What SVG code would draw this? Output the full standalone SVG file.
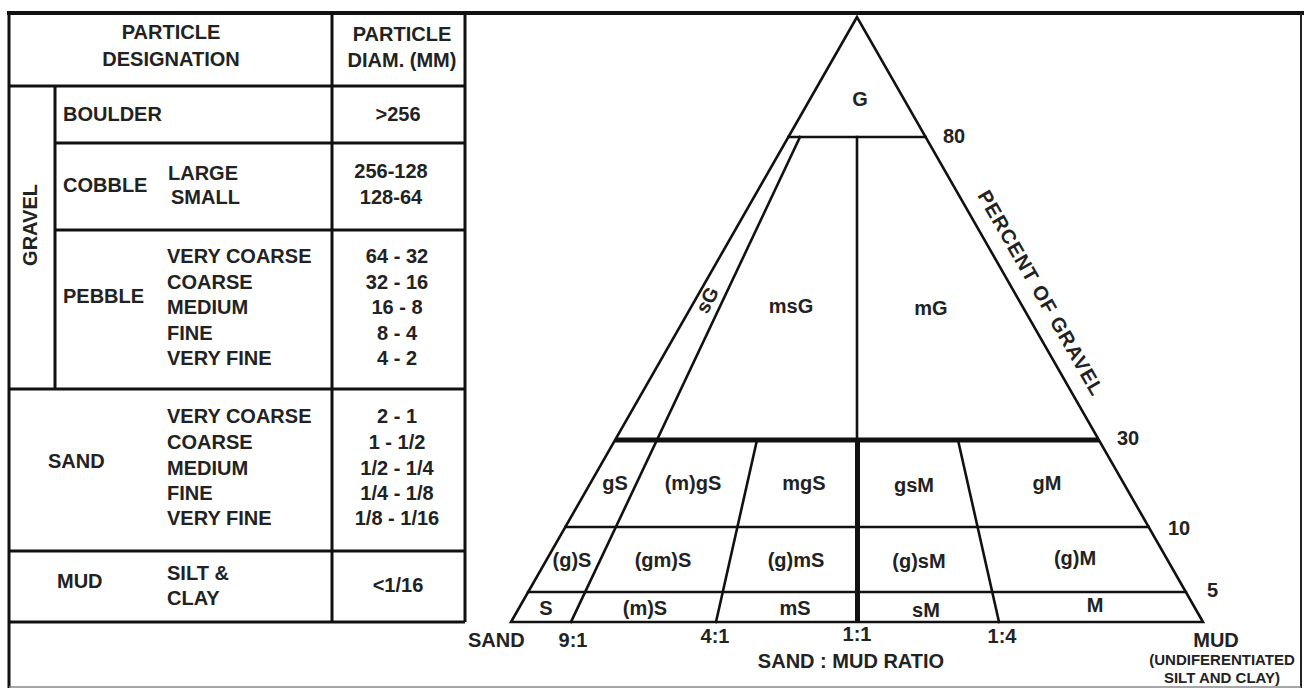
<svg xmlns="http://www.w3.org/2000/svg" width="1304" height="688" viewBox="0 0 1304 688">
<style>
.ln{stroke:#111;stroke-width:2.6;fill:none;stroke-linecap:square}
.tk{stroke:#111;stroke-width:5;fill:none}
.tb{stroke:#111;stroke-width:3;fill:none}
text{font-family:"Liberation Sans",Arial,sans-serif;font-weight:bold;font-size:20px;fill:#222}
.m{text-anchor:middle}
.sm{font-size:15px}
</style>
<rect x="0" y="0" width="1304" height="688" fill="#fff"/>
<g id="frame">
<line x1="7" y1="13" x2="1304" y2="13" stroke="#111" stroke-width="4"/>
<line x1="9" y1="13" x2="9" y2="688" class="tb"/>
<line x1="1301" y1="13" x2="1301" y2="688" stroke="#222" stroke-width="2"/>
<line x1="9" y1="687" x2="1301" y2="687" stroke="#888" stroke-width="1.5"/>
</g>
<g id="table">
<g id="table-grid">
<line x1="465" y1="13" x2="465" y2="622" class="tb"/>
<line x1="332" y1="13" x2="332" y2="622" class="tb"/>
<line x1="9" y1="86" x2="465" y2="86" class="tb"/>
<line x1="55" y1="143" x2="465" y2="143" class="tb"/>
<line x1="55" y1="230" x2="465" y2="230" class="tb"/>
<line x1="9" y1="389" x2="465" y2="389" class="tb"/>
<line x1="9" y1="551" x2="465" y2="551" class="tb"/>
<line x1="9" y1="622" x2="465" y2="622" class="tb"/>
<line x1="55" y1="86" x2="55" y2="389" class="tb"/>
</g>
<g id="header">
<text x="171" y="39" class="m">PARTICLE</text>
<text x="171" y="65.5" class="m">DESIGNATION</text>
<text x="402" y="41" class="m">PARTICLE</text>
<text x="402" y="66.5" class="m">DIAM. (MM)</text>
</g>
<g id="gravel">
<text transform="translate(37,225) rotate(-90)" class="m">GRAVEL</text>
</g>
<g id="boulder">
<text x="63" y="121">BOULDER</text>
<text x="398" y="121" class="m">&gt;256</text>
</g>
<g id="cobble">
<text x="63" y="192">COBBLE</text>
<text x="168" y="180">LARGE</text>
<text x="171" y="204">SMALL</text>
<text x="391" y="178" class="m">256-128</text>
<text x="391" y="204" class="m">128-64</text>
</g>
<g id="pebble">
<text x="63" y="303">PEBBLE</text>
<text x="167" y="263">VERY COARSE</text>
<text x="167" y="289">COARSE</text>
<text x="167" y="314">MEDIUM</text>
<text x="167" y="340">FINE</text>
<text x="167" y="365">VERY FINE</text>
<text x="397" y="263" class="m">64 - 32</text>
<text x="397" y="289" class="m">32 - 16</text>
<text x="397" y="314" class="m">16 - 8</text>
<text x="397" y="340" class="m">8 - 4</text>
<text x="397" y="365" class="m">4 - 2</text>
</g>
<g id="sand">
<text x="48" y="468">SAND</text>
<text x="167" y="423">VERY COARSE</text>
<text x="167" y="449">COARSE</text>
<text x="167" y="475">MEDIUM</text>
<text x="167" y="500">FINE</text>
<text x="167" y="525">VERY FINE</text>
<text x="397" y="423" class="m">2 - 1</text>
<text x="397" y="449" class="m">1 - 1/2</text>
<text x="397" y="475" class="m">1/2 - 1/4</text>
<text x="397" y="500" class="m">1/4 - 1/8</text>
<text x="397" y="525" class="m">1/8 - 1/16</text>
</g>
<g id="mud">
<text x="57" y="588">MUD</text>
<text x="167" y="580">SILT &amp;</text>
<text x="167" y="605">CLAY</text>
<text x="398" y="592" class="m">&lt;1/16</text>
</g>
</g>
<g id="connectors">
<polygon points="857,17 511,622 1203,622" class="ln" stroke-linejoin="miter"/>
<line x1="788.4" y1="137" x2="925.6" y2="137" class="ln"/>
<line x1="615" y1="440" x2="1099" y2="440" class="tk"/>
<line x1="565.3" y1="527" x2="1148.7" y2="527" class="ln"/>
<line x1="528.1" y1="592" x2="1185.9" y2="592" class="ln"/>
<line x1="857" y1="137" x2="857" y2="440" class="ln"/>
<line x1="857.5" y1="440" x2="857.5" y2="622" class="tk"/>
<line x1="800" y1="137" x2="571" y2="622" class="ln"/>
<line x1="757" y1="440" x2="716" y2="622" class="ln"/>
<line x1="958" y1="440" x2="999" y2="622" class="ln"/>
</g>
<g id="region-labels">
<text x="860" y="106" class="m">G</text>
<text transform="translate(707,300) rotate(-62)" y="7" class="m">sG</text>
<text x="791" y="313" class="m">msG</text>
<text x="931" y="315" class="m">mG</text>
<text x="615" y="490" class="m">gS</text>
<text x="693" y="490" class="m">(m)gS</text>
<text x="804" y="490" class="m">mgS</text>
<text x="914" y="492" class="m">gsM</text>
<text x="1047" y="490" class="m">gM</text>
<text x="572" y="567" class="m">(g)S</text>
<text x="663" y="567" class="m">(gm)S</text>
<text x="796" y="567" class="m">(g)mS</text>
<text x="919" y="568" class="m">(g)sM</text>
<text x="1075" y="565" class="m">(g)M</text>
<text x="546" y="615" class="m">S</text>
<text x="645" y="615" class="m">(m)S</text>
<text x="795" y="615" class="m">mS</text>
<text x="926" y="617" class="m">sM</text>
<text x="1095" y="612" class="m">M</text>
</g>
<g id="axis-labels">
<text x="943" y="143">80</text>
<text x="1117" y="445">30</text>
<text x="1168" y="535">10</text>
<text x="1207" y="597">5</text>
<text transform="translate(1041,293) rotate(60.2)" y="7" class="m" letter-spacing="1">PERCENT OF GRAVEL</text>
<text x="468" y="647">SAND</text>
<text x="573" y="647" class="m">9:1</text>
<text x="715" y="643" class="m">4:1</text>
<text x="857" y="641" class="m">1:1</text>
<text x="1002" y="643" class="m">1:4</text>
<text x="851" y="668" class="m">SAND : MUD RATIO</text>
<text x="1216" y="647" class="m">MUD</text>
<text x="1222" y="665" class="m sm">(UNDIFERENTIATED</text>
<text x="1222" y="683" class="m sm">SILT AND CLAY)</text>
</g>
</svg>
